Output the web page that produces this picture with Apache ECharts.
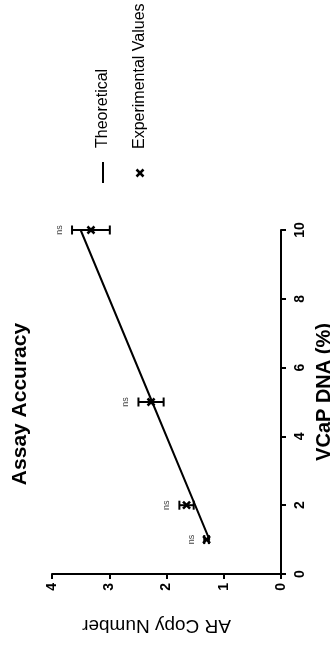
<!DOCTYPE html>
<html><head><meta charset="utf-8">
<script src="https://cdn.jsdelivr.net/npm/echarts@6/dist/echarts.min.js"></script>
<style>html,body{margin:0;padding:0;background:#fff}#c{width:330px;height:645px}</style>
</head><body><div id="c"></div>
<script>
// Data (chart is drawn rotated 90° counter-clockwise, as in the reference)
const vcapPercent = [1, 2, 5, 10];
const theoreticalCopy = [1.25, 1.5, 2.25, 3.5];
const experimentalMean = [1.30, 1.65, 2.27, 3.32];
const experimentalSD = [0.04, 0.125, 0.22, 0.33];
const significance = ['ns', 'ns', 'ns', 'ns'];
const legendNames = ['Theoretical', 'Experimental Values'];
const titleText = 'Assay Accuracy';

const FONT = '"Liberation Sans", Arial, sans-serif';
const chart = echarts.init(document.getElementById('c'), null, {renderer: 'canvas'});

const theoData = vcapPercent.map((v, i) => [theoreticalCopy[i], v]);
const expData = vcapPercent.map((v, i) => [experimentalMean[i], v,
  experimentalMean[i] - experimentalSD[i], experimentalMean[i] + experimentalSD[i]]);

function renderExp(params, api) {
  const y = api.value(1);
  const m = api.coord([api.value(0), y]);
  const lo = api.coord([api.value(2), y]);
  const hi = api.coord([api.value(3), y]);
  const cap = 4.5, s = 3.5;
  const ls = {stroke: '#000', lineWidth: 2};
  const ms = {stroke: '#000', lineWidth: 2.5};
  return {type: 'group', children: [
    {type: 'line', shape: {x1: lo[0], y1: lo[1], x2: hi[0], y2: hi[1]}, style: ls},
    {type: 'line', shape: {x1: lo[0], y1: lo[1] - cap, x2: lo[0], y2: lo[1] + cap}, style: ls},
    {type: 'line', shape: {x1: hi[0], y1: hi[1] - cap, x2: hi[0], y2: hi[1] + cap}, style: ls},
    {type: 'line', shape: {x1: m[0] - s, y1: m[1] - s, x2: m[0] + s, y2: m[1] + s}, style: ms},
    {type: 'line', shape: {x1: m[0] - s, y1: m[1] + s, x2: m[0] + s, y2: m[1] - s}, style: ms},
    {type: 'text', x: hi[0] - 13, y: hi[1], rotation: Math.PI / 2,
      style: {text: significance[params.dataIndex], fontSize: 9, fontFamily: FONT, fill: '#444',
        align: 'center', verticalAlign: 'middle'}}
  ]};
}

const option = {
  animation: false,
  grid: {left: 52, right: 49, top: 230, bottom: 71, outerBoundsMode: 'none', containLabel: false},
  xAxis: {
    type: 'value', inverse: true, min: 0, max: 4, interval: 1, position: 'bottom',
    axisLine: {show: true, onZero: false, lineStyle: {color: '#000', width: 2}},
    axisTick: {show: true, length: 5, lineStyle: {color: '#000', width: 2}},
    axisLabel: {rotate: 90, margin: 9, color: '#000', fontWeight: 'bold', fontSize: 14, fontFamily: FONT},
    splitLine: {show: false},
    name: 'AR Copy Number', nameLocation: 'middle', nameRotate: 180, nameGap: 42,
    nameTextStyle: {fontSize: 19, color: '#000', fontFamily: FONT, padding: [0, 0, 0, 20]}
  },
  yAxis: {
    type: 'value', min: 0, max: 10, interval: 2, position: 'right',
    axisLine: {show: true, onZero: false, lineStyle: {color: '#000', width: 2}},
    axisTick: {show: true, length: 5, lineStyle: {color: '#000', width: 2}},
    axisLabel: {rotate: 90, margin: 12, color: '#000', fontWeight: 'bold', fontSize: 14, fontFamily: FONT},
    splitLine: {show: false},
    name: 'VCaP DNA (%)', nameLocation: 'middle', nameRotate: 90, nameGap: 31,
    nameTextStyle: {fontSize: 20, fontWeight: 'bold', color: '#000', fontFamily: FONT, padding: [0, 0, 0, 20]}
  },
  series: [
    {type: 'line', name: legendNames[0], data: theoData, showSymbol: false,
      lineStyle: {color: '#000', width: 2}, z: 2},
    {type: 'custom', name: legendNames[1], data: expData, renderItem: renderExp,
      encode: {x: [0, 2, 3], y: 1}, z: 3}
  ],
  graphic: [
    {type: 'text', x: 20, y: 404, rotation: Math.PI / 2,
      style: {text: titleText, fontSize: 21, fontWeight: 'bold', fontFamily: FONT, fill: '#000',
        align: 'center', verticalAlign: 'middle'}},
    {type: 'line', shape: {x1: 103, y1: 162, x2: 103, y2: 183}, style: {stroke: '#000', lineWidth: 2}},
    {type: 'text', x: 103, y: 148, rotation: Math.PI / 2,
      style: {text: legendNames[0], fontSize: 16, fontFamily: FONT, fill: '#000',
        align: 'left', verticalAlign: 'middle'}},
    {type: 'line', shape: {x1: 136.5, y1: 169.5, x2: 143.5, y2: 176.5}, style: {stroke: '#000', lineWidth: 2.5}},
    {type: 'line', shape: {x1: 136.5, y1: 176.5, x2: 143.5, y2: 169.5}, style: {stroke: '#000', lineWidth: 2.5}},
    {type: 'text', x: 140, y: 149, rotation: Math.PI / 2,
      style: {text: legendNames[1], fontSize: 16, fontFamily: FONT, fill: '#000',
        align: 'left', verticalAlign: 'middle'}}
  ]
};
chart.setOption(option);
</script>
</body></html>
